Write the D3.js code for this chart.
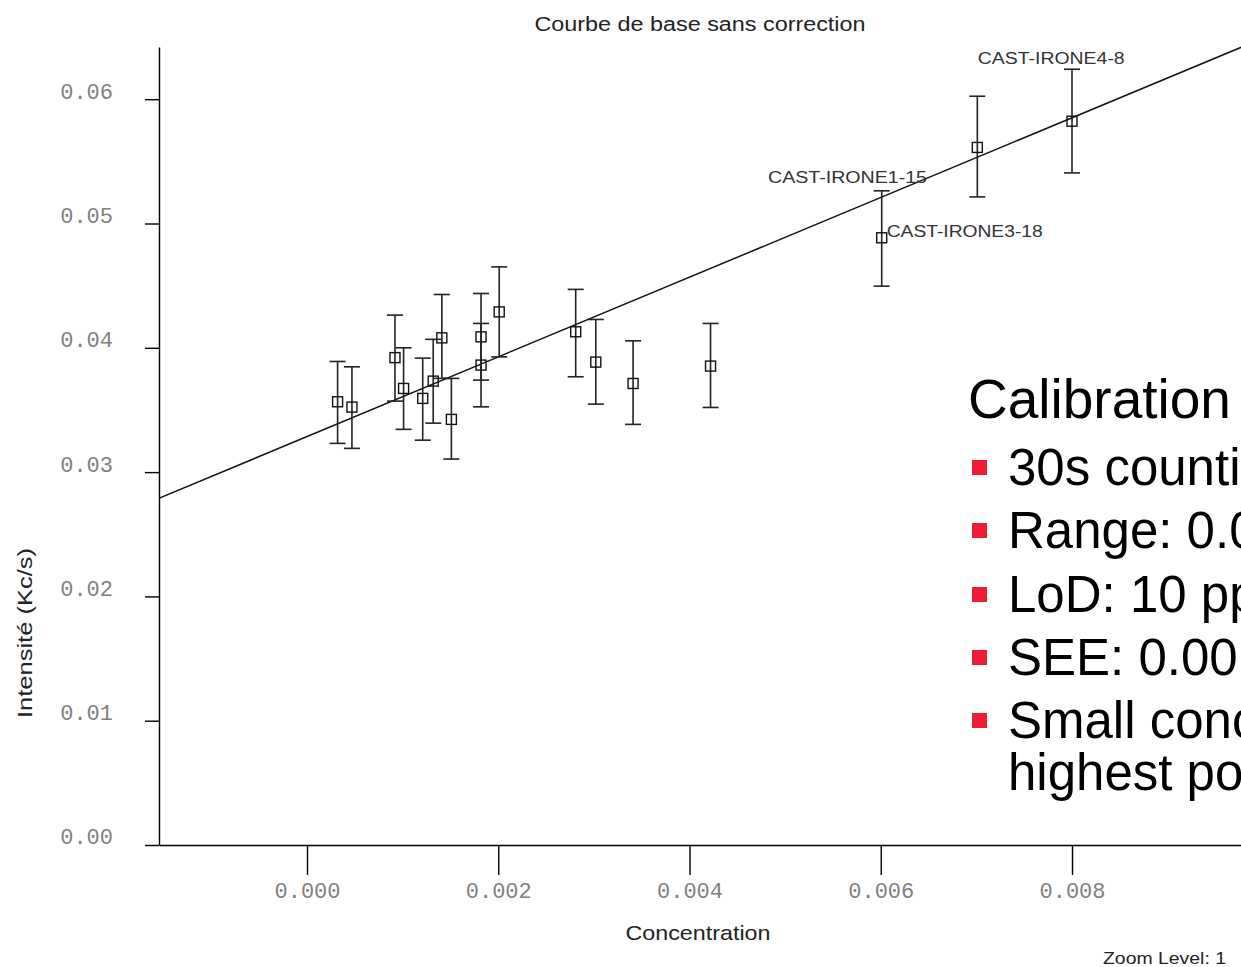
<!DOCTYPE html>
<html>
<head>
<meta charset="utf-8">
<script src="https://cdn.jsdelivr.net/npm/d3@7/dist/d3.min.js"></script>
<style>
  html, body { margin: 0; padding: 0; background: #fff; }
  svg { display: block; }
</style>
</head>
<body>
<svg id="chart" width="1241" height="967"></svg>
<script>
// ---- data ----
const conc = [0.00032, 0.00047, 0.00092, 0.00101, 0.00121, 0.00132, 0.00141, 0.00151, 0.00182, 0.00182, 0.00201, 0.00281, 0.00302, 0.00341, 0.00422, 0.00601, 0.00701, 0.00800];
const intensity = [0.03566, 0.03523, 0.03921, 0.03673, 0.03593, 0.03732, 0.04080, 0.03424, 0.04088, 0.03861, 0.04289, 0.04129, 0.03885, 0.03713, 0.03853, 0.04885, 0.05612, 0.05823];
const upper = [0.03890, 0.03847, 0.04263, 0.04000, 0.03917, 0.04068, 0.04429, 0.03754, 0.04437, 0.04196, 0.04651, 0.04470, 0.04228, 0.04056, 0.04196, 0.05263, 0.06024, 0.06241];
const lower = [0.03231, 0.03191, 0.03571, 0.03344, 0.03257, 0.03394, 0.03754, 0.03105, 0.03740, 0.03525, 0.03927, 0.03767, 0.03547, 0.03384, 0.03520, 0.04496, 0.05214, 0.05407];
const fitX = [-0.00155, 0.00977];
const fitY = [0.02789, 0.06418];
const labelNames = ["CAST-IRONE1-15", "CAST-IRONE3-18", "CAST-IRONE4-8"];
const labelX = [0.004821, 0.006062, 0.007014];
const labelY = [0.05325, 0.04890, 0.06282];
const xTicks = [0, 0.002, 0.004, 0.006, 0.008];
const yTicks = [0, 0.01, 0.02, 0.03, 0.04, 0.05, 0.06];
const titleText = "Courbe de base sans correction";
const xTitle = "Concentration";
const yTitle = "Intensité  (Kc/s)";
const zoomText = "Zoom Level: 1";
const slideTitle = "Calibration";
const slideBullets = [["30s counti"], ["Range: 0.0"], ["LoD: 10 pp"], ["SEE: 0.00"], ["Small conc", "highest po"]];

// ---- layout ----
const svg = d3.select("#chart");
const L = 159, R = 1241, T = 47, B = 845;
const x = d3.scaleLinear().domain([(L - 307) / 95625, (R - 307) / 95625]).range([L, R]);
const y = d3.scaleLinear().domain([0, 0.0642]).range([B, T]);

const mono = "'Liberation Mono', 'Courier New', monospace";
const sans = "'Liberation Sans', Arial, sans-serif";
const narrow = "'Liberation Sans Narrow', 'Liberation Sans', Arial, sans-serif";

// title
svg.append("text").attr("x", 700).attr("y", 31).attr("text-anchor", "middle")
  .attr("font-family", narrow).attr("font-size", 20).attr("fill", "#222")
  .attr("textLength", 331).attr("lengthAdjust", "spacingAndGlyphs").text(titleText);

// y axis
const gy = svg.append("g").attr("transform", `translate(${L},0)`)
  .call(d3.axisLeft(y).tickValues(yTicks).tickFormat(d3.format(".2f")).tickSize(14).tickSizeOuter(0).tickPadding(32));
gy.selectAll("path.domain").attr("stroke", "#000").attr("stroke-width", 1.4);
gy.selectAll(".tick line").attr("stroke", "#000").attr("stroke-width", 1.4);
gy.selectAll(".tick text").attr("font-family", mono).attr("font-size", 22).attr("fill", "#808080")
  .attr("dy", "-0.05em");

// x axis
const gx = svg.append("g").attr("transform", `translate(0,${B})`)
  .call(d3.axisBottom(x).tickValues(xTicks).tickFormat(d3.format(".3f")).tickSize(30).tickSizeOuter(0).tickPadding(7));
gx.selectAll("path.domain").attr("stroke", "#000").attr("stroke-width", 1.4);
gx.selectAll(".tick line").attr("stroke", "#000").attr("stroke-width", 1.4);
gx.selectAll(".tick text").attr("font-family", mono).attr("font-size", 22).attr("fill", "#808080");

// axis titles
svg.append("text").attr("x", 698).attr("y", 940).attr("text-anchor", "middle")
  .attr("font-family", narrow).attr("font-size", 21).attr("fill", "#222")
  .attr("textLength", 145).attr("lengthAdjust", "spacingAndGlyphs").text(xTitle);
svg.append("text").attr("transform", "translate(32,633) rotate(-90)").attr("text-anchor", "middle")
  .attr("font-family", narrow).attr("font-size", 20).attr("fill", "#222")
  .attr("textLength", 170).attr("lengthAdjust", "spacingAndGlyphs").text(yTitle);
svg.append("text").attr("x", 1226).attr("y", 964).attr("text-anchor", "end")
  .attr("font-family", narrow).attr("font-size", 16).attr("fill", "#222")
  .attr("textLength", 123).attr("lengthAdjust", "spacingAndGlyphs").text(zoomText);

// clip for plot
svg.append("clipPath").attr("id", "plotclip").append("rect")
  .attr("x", L).attr("y", 0).attr("width", R - L).attr("height", B);

const plot = svg.append("g").attr("clip-path", "url(#plotclip)");

// regression line
plot.append("line")
  .attr("x1", x(fitX[0])).attr("y1", y(fitY[0]))
  .attr("x2", x(fitX[1])).attr("y2", y(fitY[1]))
  .attr("stroke", "#111").attr("stroke-width", 1.5);

// error bars
const pts = conc.map((c, i) => ({ c, v: intensity[i], hi: upper[i], lo: lower[i] }));
const eb = plot.selectAll("g.eb").data(pts).enter().append("g").attr("class", "eb")
  .attr("stroke", "#222").attr("stroke-width", 1.6).attr("fill", "none");
eb.append("line").attr("x1", d => x(d.c)).attr("x2", d => x(d.c)).attr("y1", d => y(d.hi)).attr("y2", d => y(d.lo));
eb.append("line").attr("x1", d => x(d.c) - 8).attr("x2", d => x(d.c) + 8).attr("y1", d => y(d.hi)).attr("y2", d => y(d.hi));
eb.append("line").attr("x1", d => x(d.c) - 8).attr("x2", d => x(d.c) + 8).attr("y1", d => y(d.lo)).attr("y2", d => y(d.lo));
eb.append("rect").attr("x", d => x(d.c) - 5).attr("y", d => y(d.v) - 5).attr("width", 10).attr("height", 10)
  .attr("fill", "none").attr("stroke", "#111").attr("stroke-width", 1.4);

// point labels
svg.selectAll("text.plab").data(labelNames).enter().append("text").attr("class", "plab")
  .attr("x", (d, i) => x(labelX[i])).attr("y", (d, i) => y(labelY[i]))
  .attr("font-family", sans).attr("font-size", 16).attr("fill", "#333")
  .attr("textLength", (d, i) => [159, 156, 147][i]).attr("lengthAdjust", "spacingAndGlyphs")
  .text(d => d);

// slide overlay text
svg.append("text").attr("x", 968).attr("y", 418).attr("font-family", sans).attr("font-size", 55)
  .attr("fill", "#000").text(slideTitle);
const baselines = [485, 548, 612, 675, 738];
slideBullets.forEach((lines, i) => {
  svg.append("rect").attr("x", 972).attr("y", baselines[i] - 25).attr("width", 15).attr("height", 15).attr("fill", "#ee1d35");
  lines.forEach((t, j) => {
    svg.append("text").attr("x", 1008).attr("y", baselines[i] + j * 52)
      .attr("font-family", sans).attr("font-size", 51).attr("fill", "#000").text(t);
  });
});
</script>
</body>
</html>
